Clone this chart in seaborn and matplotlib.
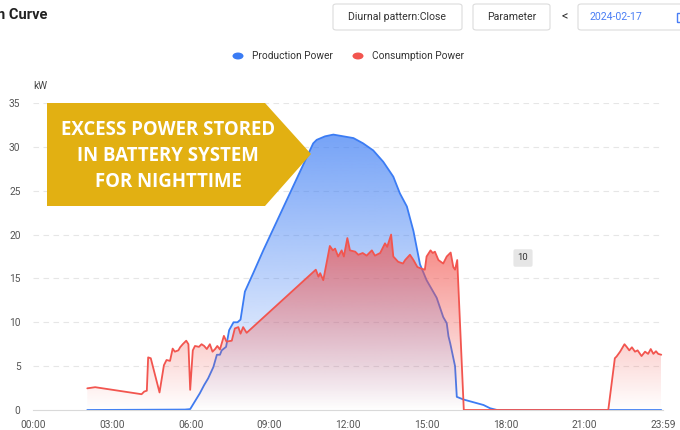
import numpy as np
import pandas as pd
import seaborn as sns
import matplotlib.pyplot as plt
from matplotlib.colors import to_rgb
from matplotlib.patches import Polygon, FancyBboxPatch, Circle, Rectangle

# Production power (kW)
prod_time = ["02:04", "05:47", "05:59", "06:21", "06:31", "06:40", "06:52",
             "07:00", "07:07", "07:11", "07:21", "07:28", "07:38", "07:47",
             "07:54", "08:04", "08:23", "08:46", "10:40", "10:48", "11:07",
             "11:26", "11:49", "12:12", "12:34", "12:57", "13:20", "13:43",
             "13:58", "14:14", "14:29", "14:44", "14:59", "15:22", "15:37",
             "15:45", "15:49", "15:53", "16:04", "16:08", "16:23", "17:09",
             "17:24", "17:40", "23:55"]
prod_kw = [0, 0.05, 0.1, 1.9, 2.85, 3.6, 4.9,
           6.3, 6.3, 6.8, 7.2, 9.1, 10.0, 10.0,
           10.3, 13.5, 15.6, 18.2, 30.4, 30.8, 31.2,
           31.4, 31.2, 31.0, 30.4, 29.6, 28.3, 26.6,
           24.7, 23.2, 20.4, 16.6, 14.8, 12.8, 10.6,
           9.9, 8.4, 7.6, 5.0, 1.5, 1.2, 0.57,
           0.2, 0, 0]

# Consumption power (kW)
cons_time = ["02:04", "02:22", "04:08", "04:14", "04:20", "04:23", "04:29",
             "04:49", "04:59", "05:05", "05:13", "05:19", "05:24", "05:32",
             "05:36", "05:42", "05:50", "05:55", "05:59", "06:05", "06:10",
             "06:19", "06:25", "06:31", "06:37", "06:44", "06:50", "06:56",
             "07:01", "07:07", "07:16", "07:22", "07:34", "07:41", "07:49",
             "07:54", "08:00", "08:08", "10:46", "10:52", "10:56", "11:03",
             "11:18", "11:25", "11:30", "11:37", "11:45", "11:50", "11:58",
             "12:04", "12:16", "12:23", "12:33", "12:42", "12:54", "13:01",
             "13:13", "13:24", "13:29", "13:38", "13:43", "13:54", "14:05",
             "14:10", "14:21", "14:29", "14:38", "14:48", "14:55", "14:59",
             "15:08", "15:13", "15:18", "15:26", "15:37", "15:45", "15:54",
             "16:00", "16:04", "16:09", "16:24", "21:54", "22:09", "22:13",
             "22:21", "22:31", "22:36", "22:42", "22:48", "22:55", "23:01",
             "23:10", "23:18", "23:25", "23:31", "23:37", "23:43", "23:48",
             "23:55"]
cons_kw = [2.47, 2.6, 1.8, 2.1, 2.2, 6.0, 5.9,
           2.0, 5.1, 5.7, 5.6, 7.0, 6.65, 6.8,
           7.15, 7.5, 7.9, 7.5, 2.3, 6.8, 7.3,
           7.2, 7.5, 7.3, 6.95, 7.5, 6.65, 6.95,
           7.3, 6.9, 8.45, 7.8, 7.9, 9.3, 9.45,
           8.7, 9.45, 8.8, 16.0, 15.2, 15.6, 14.8,
           18.7, 18.2, 18.4, 17.5, 18.2, 17.5, 19.6,
           18.2, 18.05, 17.7, 17.9, 17.6, 18.2, 17.6,
           17.9, 19.0, 18.6, 20.0, 17.5, 16.9, 16.7,
           17.1, 17.7, 17.1, 16.3, 16.1, 16.0, 17.5,
           18.2, 17.9, 18.05, 17.1, 16.7, 17.5, 17.95,
           16.3, 16.0, 17.1, 0, 0, 5.9, 6.1,
           6.65, 7.5, 7.2, 6.8, 7.15, 6.65, 6.8,
           6.15, 6.65, 6.4, 6.95, 6.4, 6.7, 6.4,
           6.3]

tick_labels = ["00:00", "03:00", "06:00", "09:00", "12:00", "15:00",
               "18:00", "21:00", "23:59"]


def to_min(t):
    h, m = t.split(":")
    return int(h) * 60 + int(m)


prod = pd.DataFrame({"minute": [to_min(t) for t in prod_time], "kw": prod_kw})
cons = pd.DataFrame({"minute": [to_min(t) for t in cons_time], "kw": cons_kw})

blue = "#3b7cf4"
red = "#f2554f"
gold = "#e2b012"

sns.set_style("white")
plt.rcParams["font.family"] = ["Roboto", "DejaVu Sans"]

W, H = 680, 430
fig = plt.figure(figsize=(W / 100, H / 100), dpi=100)
ax = fig.add_axes([33 / W, 20 / H, 630 / W, 307 / H])


def gradient_fill(ax, x, y, color, a_top, a_bot, z):
    poly = ax.fill_between(x, y, 0, facecolor="none", edgecolor="none")
    rgba = np.zeros((200, 1, 4))
    rgba[:, :, :3] = to_rgb(color)
    rgba[:, 0, 3] = np.linspace(a_bot, a_top, 200)
    im = ax.imshow(rgba, aspect="auto", origin="lower", zorder=z,
                   extent=[x.min(), x.max(), 0, y.max()])
    im.set_clip_path(poly.get_paths()[0], transform=ax.transData)


gradient_fill(ax, prod["minute"], prod["kw"], blue, 0.7, 0.0, 1)
sns.lineplot(data=prod, x="minute", y="kw", ax=ax, color=blue, lw=1.3,
             zorder=2)
gradient_fill(ax, cons["minute"], cons["kw"], red, 0.72, 0.0, 3)
sns.lineplot(data=cons, x="minute", y="kw", ax=ax, color=red, lw=1.3,
             zorder=4)

# Axes styling
ax.set_xlim(0, 1439)
ax.set_ylim(0, 35)
ax.set_xticks([to_min(t) for t in tick_labels])
ax.set_xticklabels(tick_labels)
ax.set_yticks(range(0, 36, 5))
ax.set_xlabel("")
ax.set_ylabel("")
for y in range(5, 36, 5):
    ax.axhline(y, color="#e6e6e6", lw=0.8, ls=(0, (5, 4)), zorder=0)
for s in ["top", "right", "left"]:
    ax.spines[s].set_visible(False)
ax.spines["bottom"].set_color("#d9d9d9")
ax.tick_params(axis="x", length=4, color="#d9d9d9", labelsize=7.3,
               labelcolor="#555555", pad=3)
ax.tick_params(axis="y", length=0, labelsize=7.3, labelcolor="#555555",
               pad=9)
fig.text(40 / W, 1 - 86 / H, "kW", fontsize=7.3, color="#444444",
         ha="center", va="center")


def ax_pt(px, py):
    return ((px - 33) / 630, (410 - py) / 307)


# Callout arrow
shape = [ax_pt(47, 103), ax_pt(265, 103), ax_pt(311, 154),
         ax_pt(265, 206), ax_pt(47, 206)]
ax.add_patch(Polygon(shape, closed=True, transform=ax.transAxes,
                     facecolor=gold, edgecolor="none", zorder=6,
                     clip_on=False))
tx, ty = ax_pt(168, 156)
ax.text(tx, ty, "EXCESS POWER STORED\nIN BATTERY SYSTEM\nFOR NIGHTTIME",
        transform=ax.transAxes, ha="center", va="center", color="white",
        fontsize=13.4, fontweight="bold", family=["Open Sans", "DejaVu Sans"],
        linespacing=1.42, zorder=7)


# Header widgets (figure pixel coords)
def fpt(px, py):
    return (px / W, 1 - py / H)


def button(x0, x1, y0, y1):
    p = FancyBboxPatch(fpt(x0, y1), (x1 - x0) / W, (y1 - y0) / H,
                       boxstyle="round,pad=0,rounding_size=0.005",
                       transform=fig.transFigure, facecolor="white",
                       edgecolor="#dcdcdc", lw=0.8)
    fig.patches.append(p)


fig.text(*fpt(-3, 15), "n Curve", fontsize=10.5, fontweight="bold",
         color="#222222", ha="left", va="center")
button(333, 462, 4, 30)
fig.text(*fpt(397.5, 17), "Diurnal pattern:Close", fontsize=7.6,
         color="#333333", ha="center", va="center")
button(473, 550, 4, 30)
fig.text(*fpt(511.5, 17), "Parameter", fontsize=7.6, color="#333333",
         ha="center", va="center")
fig.text(*fpt(565, 17), "<", fontsize=9, color="#333333",
         ha="center", va="center")
button(578, 700, 4, 30)
fig.text(*fpt(589, 17), "2024-02-17", fontsize=7.6, color="#4a7ef5",
         ha="left", va="center")
fig.patches.append(Rectangle(fpt(677, 22), 8 / W, 9 / H,
                             transform=fig.transFigure, facecolor="none",
                             edgecolor="#4a7ef5", lw=1.0))

# Legend
for cx, col, lab in [(238, blue, "Production Power"),
                     (358, red, "Consumption Power")]:
    fig.patches.append(Circle(fpt(cx, 56), 5.5 / W, transform=fig.transFigure,
                              facecolor=col, edgecolor="none"))
    fig.text(*fpt(cx + 14, 56), lab, fontsize=7.3, color="#333333",
             ha="left", va="center")

# Small value tag
fig.text(*fpt(523, 258), "10", fontsize=6.8, color="#333333", ha="center",
         va="center", bbox=dict(boxstyle="round,pad=0.45,rounding_size=0.2",
                                facecolor="#e6e6e6", edgecolor="none"))

fig.savefig("out.png", dpi=100)
